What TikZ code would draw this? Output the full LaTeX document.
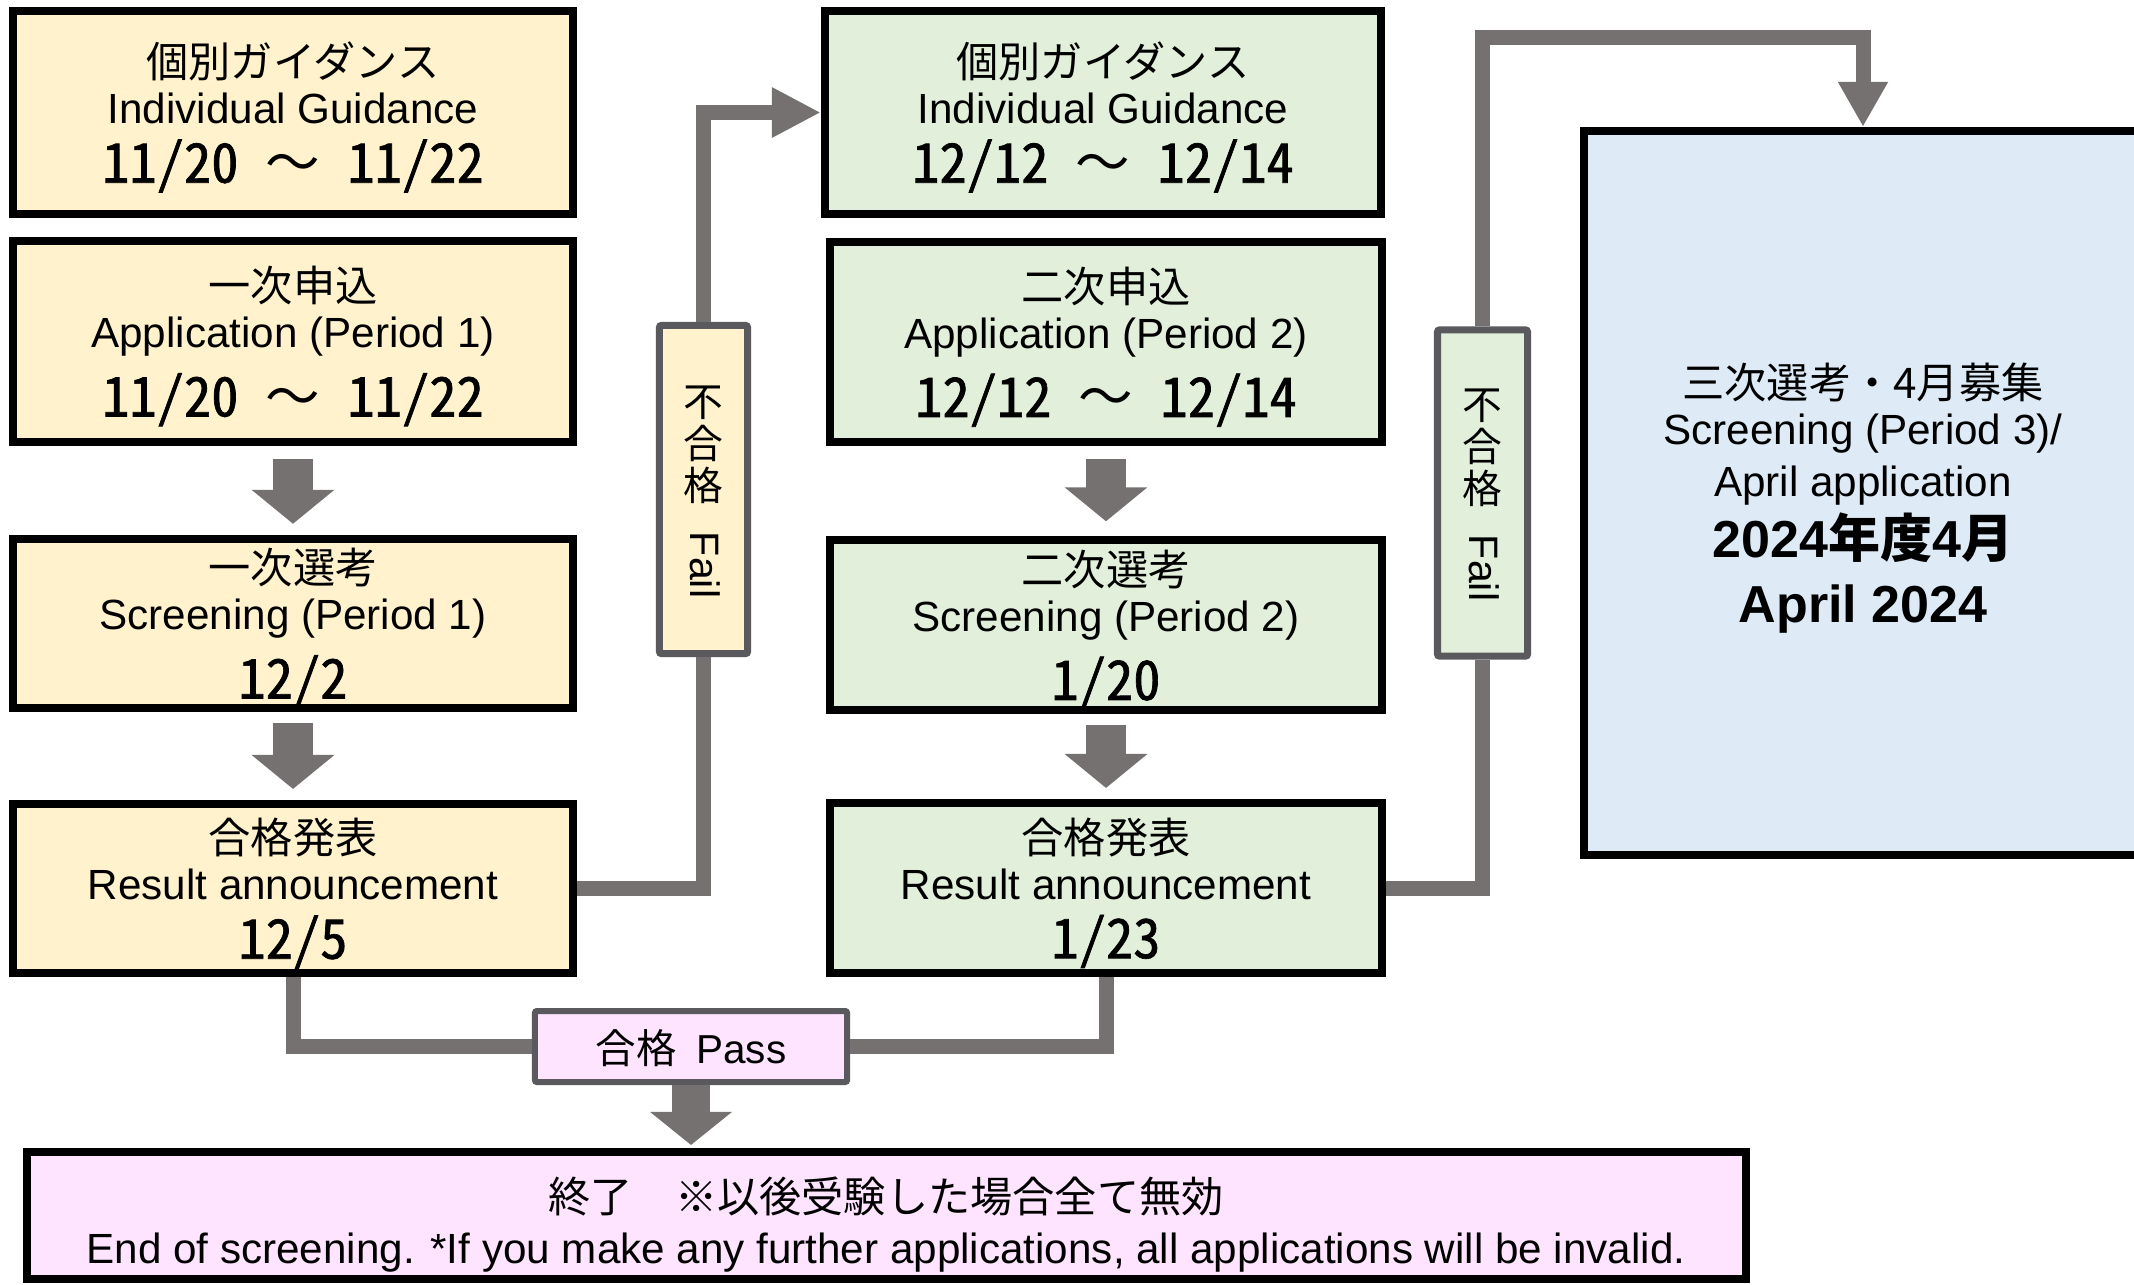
\documentclass[tikz,border=0pt]{standalone}
\usepackage{fontspec}
\setmainfont{Liberation Sans}
\newfontfamily\jp{Noto Sans CJK JP}
\newfontfamily\dt{Noto Sans CJK JP}[RawFeature=+hwid,FakeBold=1.2]
\usetikzlibrary{arrows.meta}
\definecolor{ylw}{HTML}{FFF2CC}
\definecolor{grn}{HTML}{E2EFDA}
\definecolor{blu}{HTML}{DEEBF7}
\definecolor{pnk}{HTML}{FFE4FF}
\definecolor{agray}{HTML}{767171}
\definecolor{dgray}{HTML}{5A5A5E}

\begin{document}
\begin{tikzpicture}[x=0.01cm,y=-0.01cm,
  box/.style={draw=black,line width=0.08cm,align=center,inner sep=0pt,font=\fontsize{12}{13.1}\selectfont},
  failbox/.style={draw=dgray,line width=0.07cm,rounded corners=0.02cm,inner sep=0pt},
  vtext/.style={align=center,inner sep=0pt,font=\fontsize{11.3}{11.9}\selectfont\jp},
  conn/.style={agray,line width=0.15cm},
  blk/.style={agray,line width=0.4cm,-{Triangle[width=0.81cm,length=0.34cm]}}]
     \def\jl#1{{\fontsize{12}{14}\selectfont\jp\rule{0pt}{0.45cm}#1}}
     \def\dd#1{{\fontsize{15.5}{18}\selectfont\dt #1}}
     \def\wv{{\jp 〜}}
     \def\bd#1{{\fontsize{14.8}{18}\selectfont\bfseries #1}}
     \useasboundingbox (0,0) rectangle (2134,1284);
     \node[box,fill=ylw,minimum width=5.6cm,minimum height=2.03cm] (y1) at (293,112.5)
        {\jl{個別ガイダンス}\\Individual Guidance\\[0.13cm]\dd{11/20 \wv{} 11/22}};
     \node[box,fill=ylw,minimum width=5.6cm,minimum height=2.01cm] (y2) at (293,341.5)
        {\jl{一次申込}\\Application (Period 1)\\[0.13cm]\dd{11/20 \wv{} 11/22}};
     \node[box,fill=ylw,minimum width=5.6cm,minimum height=1.69cm] (y3) at (293,623.5)
        {\jl{一次選考}\\Screening (Period 1)\\[0.13cm]\dd{12/2}};
     \node[box,fill=ylw,minimum width=5.6cm,minimum height=1.69cm] (y4) at (293,888.5)
        {\jl{合格発表}\\Result announcement\\[0.13cm]\dd{12/5}};
     \node[box,fill=grn,minimum width=5.56cm,minimum height=2.03cm] (g1) at (1103,112.5)
        {\jl{個別ガイダンス}\\Individual Guidance\\[0.13cm]\dd{12/12 \wv{} 12/14}};
     \node[box,fill=grn,minimum width=5.52cm,minimum height=2.0cm] (g2) at (1106,342)
        {\jl{二次申込}\\Application (Period 2)\\[0.13cm]\dd{12/12 \wv{} 12/14}};
     \node[box,fill=grn,minimum width=5.52cm,minimum height=1.66cm] (g3) at (1106,625)
        {\jl{二次選考}\\Screening (Period 2)\\[0.13cm]\dd{1/20}};
     \node[box,fill=grn,minimum width=5.52cm,minimum height=1.7cm] (g4) at (1106,888)
        {\jl{合格発表}\\Result announcement\\[0.13cm]\dd{1/23}};
     \node[box,fill=blu,minimum width=5.58cm,minimum height=7.24cm,font=\fontsize{12}{14.2}\selectfont,text depth=0pt] (bl) at (1863,493)
        {{\jp 三次選考・4月募集}\\[-0.04cm]Screening (Period 3)/\\[0.02cm]April application\\[0.04cm]\bd{2024{\jp 年度}4{\jp 月}}\\[0.15cm]\bd{April 2024}};
     \node[failbox,fill=ylw,minimum width=0.88cm,minimum height=3.28cm] (f1) at (703.5,489.5) {};
     \node[vtext] (f1j) at (703.5,445) {不\\合\\格};
     \node[rotate=-90,inner sep=0pt,font=\fontsize{11.7}{14}\selectfont] (f1e) at (705,565) {Fail};
     \node[failbox,fill=grn,minimum width=0.9cm,minimum height=3.26cm] (f2) at (1482.5,493) {};
     \node[vtext] (f2j) at (1482.5,448) {不\\合\\格};
     \node[rotate=-90,inner sep=0pt,font=\fontsize{11.7}{14}\selectfont] (f2e) at (1484,568) {Fail};
     \node[failbox,fill=pnk,line width=0.06cm,minimum width=3.12cm,minimum height=0.71cm,
        font=\fontsize{11.5}{14}\selectfont,text depth=0pt] (pass) at (691,1046.5) {{\jp 合格}\hspace{0.2cm}Pass};
     \node[box,fill=pnk,minimum width=17.18cm,minimum height=1.27cm,font=\fontsize{12}{14.5}\selectfont,text depth=0pt] (end) at (886,1215.5)
        {{\jp\rule{0pt}{0.45cm}終了　※以後受験した場合全て無効}\\End of screening. *If you make any further applications, all applications will be invalid.};
     \coordinate (t2) at (1700,37);
     \draw[blk,shorten <=0.13cm,shorten >=0.11cm] (y2) -- (y3);
     \draw[blk,shorten <=0.11cm,shorten >=0.11cm] (y3) -- (y4);
     \draw[blk,shorten <=0.13cm,shorten >=0.15cm] (g2) -- (g3);
     \draw[blk,shorten <=0.11cm,shorten >=0.11cm] (g3) -- (g4);
     \draw[conn] (y4.east) -| (f1.south);
     \draw[conn,-{Triangle[width=0.47cm,length=0.49cm]}] (f1.north) |- (g1.west);
     \draw[conn] (g4.east) -| (f2.south);
     \draw[conn,-{Triangle[width=0.47cm,length=0.45cm]}] (f2.north) |- (t2) -| (bl.north);
     \draw[conn] (y4.south) |- (pass.west);
     \draw[conn] (g4.south) |- (pass.east);
     \draw[blk,line width=0.38cm,-{Triangle[width=0.8cm,length=0.33cm]},shorten >=0.03cm] (pass.south) -- (pass.south |- end.north);
    \end{tikzpicture}
\end{document}
